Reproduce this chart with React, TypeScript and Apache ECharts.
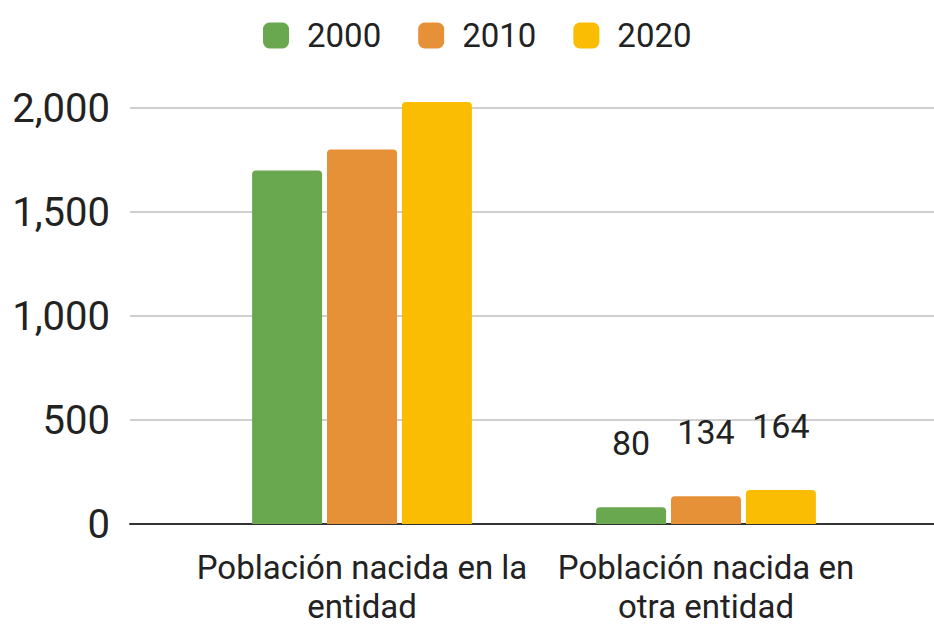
import React, { useEffect, useRef } from "react";
import * as echarts from "echarts";

const categories = ["Población nacida en la\nentidad", "Población nacida en\notra entidad"];
const seriesNames = ["2000", "2010", "2020"];
const values2000 = [1700, 80];
const values2010 = [1800, 134];
const values2020 = [2029, 164];
const colors = ["#6aa84f", "#e69138", "#fbbc04"];
const showLabel = [false, true];
const yTicks = [0, 500, 1000, 1500, 2000];

const FONT = "Roboto, 'Noto Sans', Arial, sans-serif";

export default function App() {
  const ref = useRef<HTMLDivElement>(null);
  useEffect(() => {
    if (!ref.current) return;
    const chart = echarts.init(ref.current, undefined, { renderer: "svg" });
    const allValues = [values2000, values2010, values2020];
    const fmt = (v: number) => v.toLocaleString("en-US");
    const option: any = {
      animation: false,
      backgroundColor: "#ffffff",
      legend: {
        data: seriesNames,
        left: 258,
        top: 14,
        itemWidth: 26,
        itemHeight: 26,
        itemGap: 37,
        icon: "roundRect",
        textStyle: {
          fontFamily: FONT,
          fontSize: 33,
          color: "#222222",
          padding: [0, 0, 0, 13],
          lineHeight: 28,
        },
      },
      grid: [
        { left: 130, right: 0, top: 108, bottom: 101, containLabel: false, outerBoundsMode: "none" },
        { left: 190, right: 56, top: 108, bottom: 101, containLabel: false, outerBoundsMode: "none" },
      ],
      xAxis: [
        {
          gridIndex: 0,
          type: "category",
          data: ["", ""],
          axisLine: { show: true, lineStyle: { color: "#333333", width: 2 } },
          axisTick: { show: false },
          axisLabel: { show: false },
        },
        {
          gridIndex: 1,
          type: "category",
          data: categories,
          axisLine: { show: false },
          axisTick: { show: false },
          axisLabel: {
            margin: 24,
            fontFamily: FONT,
            fontSize: 33,
            lineHeight: 39,
            color: "#222222",
            interval: 0,
          },
        },
      ],
      yAxis: [
        {
          gridIndex: 0,
          type: "value",
          min: yTicks[0],
          max: yTicks[yTicks.length - 1],
          interval: 500,
          axisLine: { show: false },
          axisTick: { show: false },
          splitLine: { show: true, lineStyle: { color: "#d0d0d0", width: 2 } },
          axisLabel: {
            margin: 20,
            fontFamily: FONT,
            fontSize: 40,
            color: "#222222",
            formatter: (v: number) => fmt(v),
          },
        },
        {
          gridIndex: 1,
          type: "value",
          min: yTicks[0],
          max: yTicks[yTicks.length - 1],
          interval: 500,
          show: false,
          splitLine: { show: false },
        },
      ],
      series: seriesNames.map((name, si) => ({
        name,
        type: "bar",
        xAxisIndex: 1,
        yAxisIndex: 1,
        clip: false,
        barWidth: 70,
        barGap: "7%",
        itemStyle: { color: colors[si], borderRadius: [4, 4, 0, 0] },
        data: allValues[si].map((v, ci) => ({
          value: v,
          label: { show: showLabel[ci] },
        })),
        label: {
          show: true,
          position: "top",
          distance: 47,
          fontFamily: FONT,
          fontSize: 34,
          color: "#222222",
          formatter: (p: any) => fmt(p.value),
        },
      })),
    };
    chart.setOption(option);
    return () => chart.dispose();
  }, []);
  return <div ref={ref} style={{ width: 934, height: 625, position: "absolute", left: 0, top: 0 }} />;
}
